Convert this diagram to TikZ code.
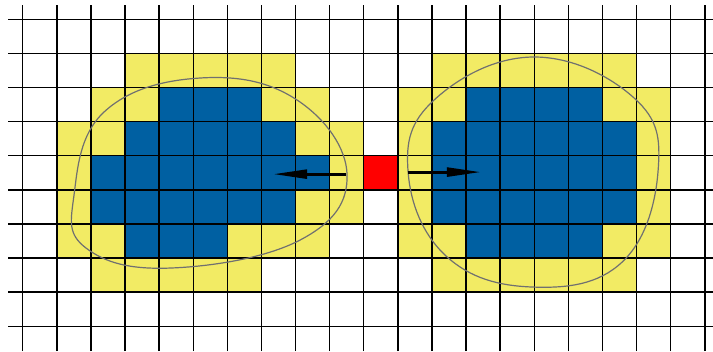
\documentclass[tikz,border=0pt]{standalone}
\usetikzlibrary{arrows.meta}
\definecolor{cellblue}{RGB}{0,96,162}
\definecolor{cellyellow}{RGB}{242,235,100}
\definecolor{ringgray}{RGB}{112,112,112}
\tikzset{
  yellowcell/.style={fill=cellyellow},
  bluecell/.style={fill=cellblue},
  gridline/.style={line width=1.2pt, black},
  ring/.style={ringgray, line width=1pt},
  push/.style={line width=2.4pt, -{Triangle[length=1cm,width=0.26cm]}},
}
\begin{document}
\begin{tikzpicture}
\useasboundingbox (-0.666,-0.727) rectangle (20.24,9.566);
% yellow rows (row counted from the top), blue drawn over them
\foreach \r/\a/\b in {1/3/7, 1/12/17, 2/2/8, 2/11/18, 3/1/9, 3/11/18, 4/1/9, 4/11/18,
                      5/1/9, 5/11/18, 6/1/8, 6/11/18, 7/2/6, 7/12/17}
  \fill[yellowcell] (\a,8-\r) rectangle (\b+1,9-\r);
\foreach \r/\a/\b in {2/4/6, 2/13/16, 3/3/7, 3/12/17, 4/2/8, 4/12/17, 5/2/7, 5/12/17,
                      6/3/5, 6/13/16}
  \fill[bluecell] (\a,8-\r) rectangle (\b+1,9-\r);
% red cell
\node[fill=red, minimum size=1cm, inner sep=0pt, anchor=south west] (src) at (10,4) {};
% grid
\foreach \x in {0,...,20}
  \draw[gridline] (\x,-0.727) -- (\x,9.42);
\foreach \y in {0,...,9}
  \draw[gridline] (-0.43,\y) -- (20.24,\y);
% outlines
\begin{scope}[shift={(-0.6657,9.566)}, x=0.029326cm, y=-0.029326cm]
\draw[ring] plot[smooth cycle, tension=0.7] coordinates {
  (74,195) (104,112) (200,78) (297,100) (347,175) (300,240) (170,268) (86,248)};
\draw[ring] plot[smooth cycle, tension=0.7] coordinates {
  (408,172) (434,100) (533,57) (634,98) (658,170) (622,262) (533,287) (446,256)};
\end{scope}
% arrows
\coordinate (lefttail) at (9.48,4.46);
\coordinate (lefthead) at (7.34,4.46);
\coordinate (righttail) at (11.30,4.52);
\coordinate (righthead) at (13.44,4.52);
\draw[push] (lefttail) -- (lefthead);
\draw[push] (righttail) -- (righthead);
\end{tikzpicture}
\end{document}
